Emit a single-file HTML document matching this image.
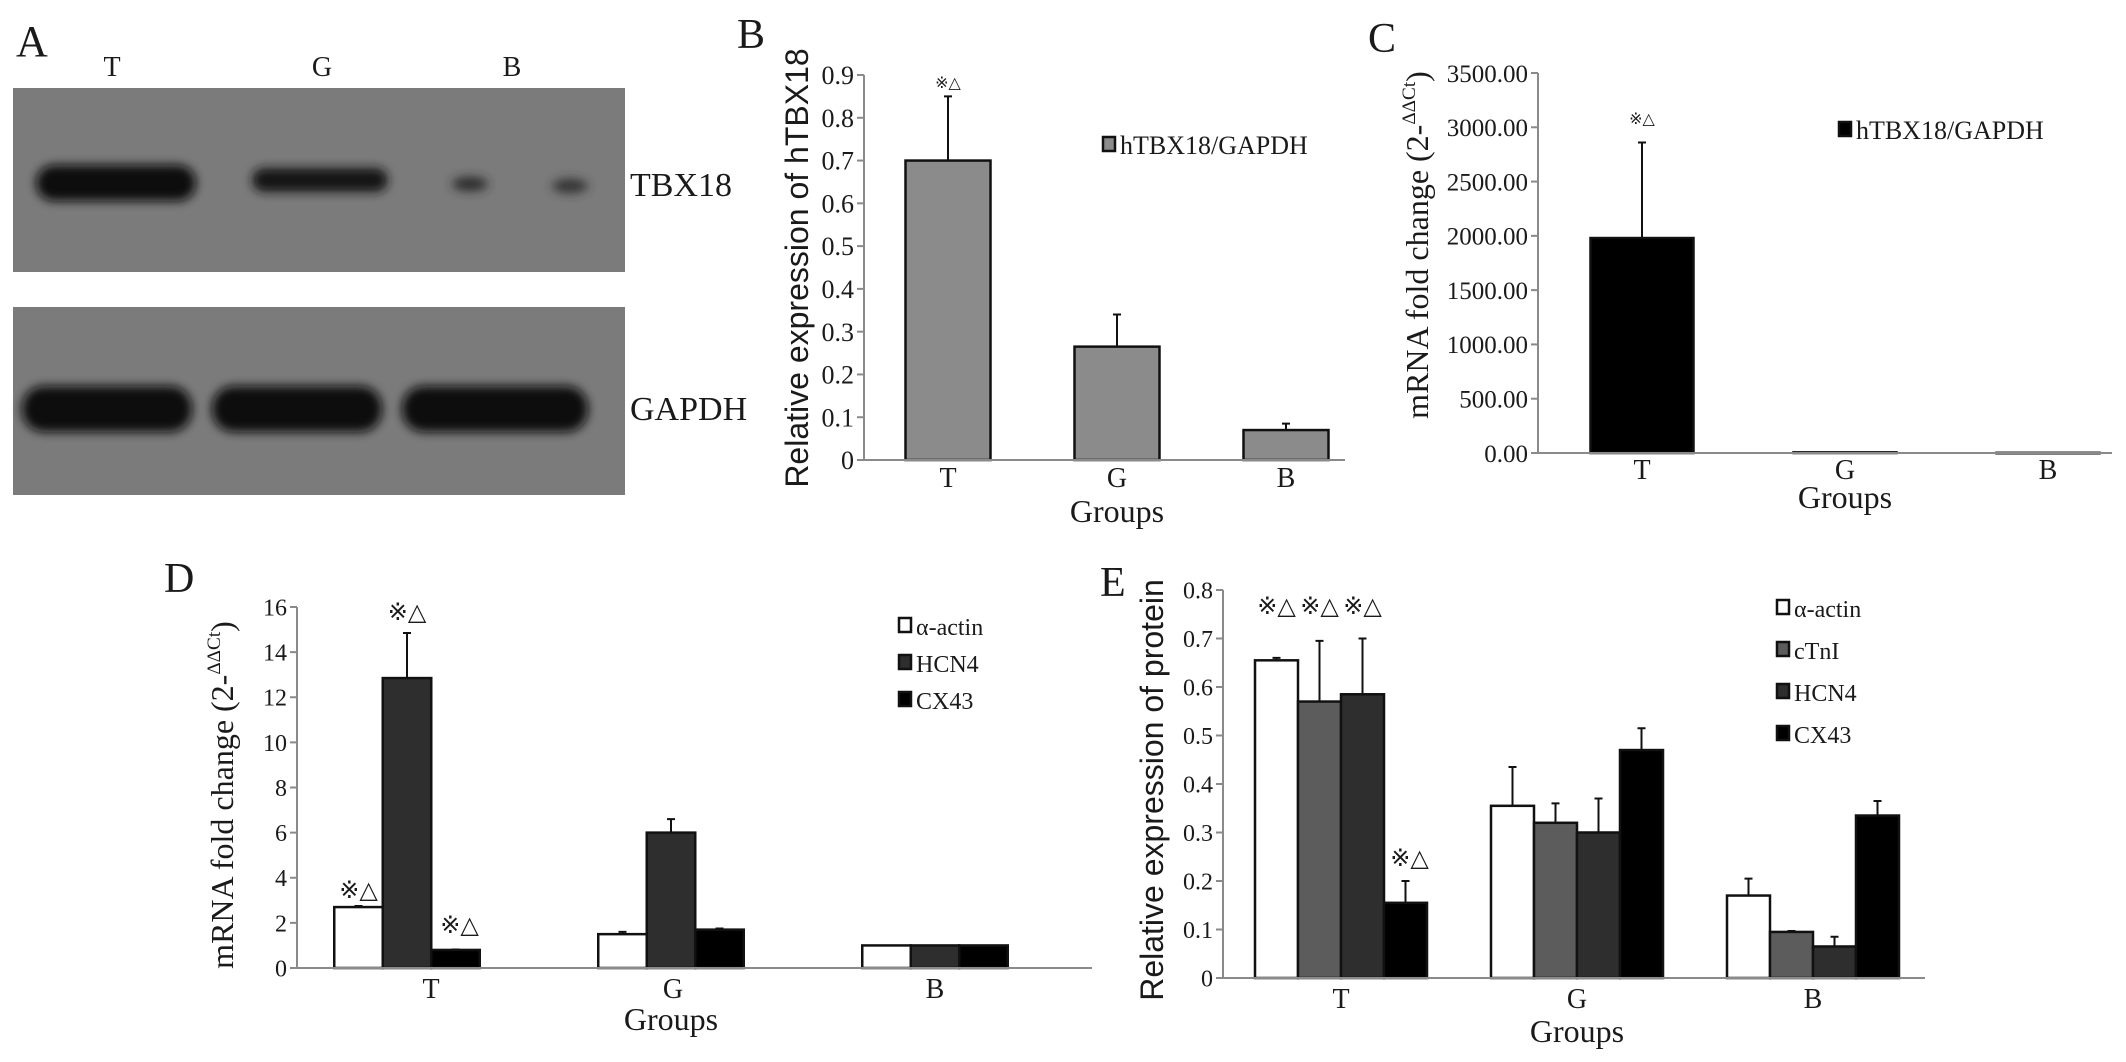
<!DOCTYPE html>
<html><head><meta charset="utf-8"><style>
html,body{margin:0;padding:0;background:#fff;}
svg{display:block;}
text{font-family:"Liberation Serif",serif;fill:#1a1a1a;}
.sans{font-family:"Liberation Sans",sans-serif;}
</style></head><body>
<svg id="fig" width="2126" height="1062" viewBox="0 0 2126 1062" xmlns="http://www.w3.org/2000/svg">
<defs>
<filter id="blur" x="-20%" y="-50%" width="140%" height="200%"><feGaussianBlur stdDeviation="5"/></filter>
</defs>
<g>
<text x="16" y="56" font-size="44">A</text>
<text x="112" y="76" font-size="28" text-anchor="middle">T</text>
<text x="322" y="76" font-size="28" text-anchor="middle">G</text>
<text x="512" y="76" font-size="28" text-anchor="middle">B</text>
<rect x="13" y="88" width="612" height="184" fill="#7b7b7b"/>
<g filter="url(#blur)">
<rect x="36" y="165" width="160" height="36" rx="18" fill="#080808"/>
<rect x="252" y="168" width="136" height="24" rx="12" fill="#141414"/>
<ellipse cx="470" cy="184" rx="18" ry="7" fill="#2a2a2a"/>
<ellipse cx="570" cy="186" rx="18" ry="7" fill="#333"/>
</g>
<text x="630" y="196" font-size="34">TBX18</text>
<rect x="13" y="307" width="612" height="188" fill="#7b7b7b"/>
<g filter="url(#blur)">
<rect x="22" y="386" width="170" height="46" rx="22" fill="#0a0a0a"/>
<rect x="212" y="386" width="170" height="46" rx="22" fill="#0a0a0a"/>
<rect x="402" y="386" width="186" height="46" rx="22" fill="#0a0a0a"/>
</g>
<text x="630" y="420" font-size="34">GAPDH</text>
</g>
<text x="737" y="48" font-size="42">B</text>
<text x="1368" y="52" font-size="42">C</text>
<text x="164" y="592" font-size="42">D</text>
<text x="1100" y="596" font-size="42">E</text>
</svg>
<script>
// ---------- Data ----------
const groups = ["T", "G", "B"];

const bSeries = ["hTBX18/GAPDH"];
const bValues = [[0.70, 0.265, 0.07]];
const bErrors = [[0.85, 0.34, 0.085]];
const bTicks = [0, 0.1, 0.2, 0.3, 0.4, 0.5, 0.6, 0.7, 0.8, 0.9];
const bTickLabels = ["0", "0.1", "0.2", "0.3", "0.4", "0.5", "0.6", "0.7", "0.8", "0.9"];

const cSeries = ["hTBX18/GAPDH"];
const cValues = [[1980, 6, 2]];
const cErrors = [[2860, 6, 2]];
const cTicks = [0, 500, 1000, 1500, 2000, 2500, 3000, 3500];
const cTickLabels = ["0.00", "500.00", "1000.00", "1500.00", "2000.00", "2500.00", "3000.00", "3500.00"];

const dSeries = ["α-actin", "HCN4", "CX43"];
const dValues = [[2.7, 1.5, 1.0], [12.85, 6.0, 1.0], [0.8, 1.7, 1.0]];
const dErrors = [[2.75, 1.6, 1.0], [14.85, 6.6, 1.0], [0.82, 1.75, 1.0]];
const dTicks = [0, 2, 4, 6, 8, 10, 12, 14, 16];
const dTickLabels = ["0", "2", "4", "6", "8", "10", "12", "14", "16"];

const eSeries = ["α-actin", "cTnI", "HCN4", "CX43"];
const eValues = [[0.655, 0.355, 0.17], [0.57, 0.32, 0.095], [0.585, 0.30, 0.065], [0.155, 0.47, 0.335]];
const eErrors = [[0.66, 0.435, 0.205], [0.695, 0.36, 0.097], [0.70, 0.37, 0.085], [0.20, 0.515, 0.365]];
const eTicks = [0, 0.1, 0.2, 0.3, 0.4, 0.5, 0.6, 0.7, 0.8];
const eTickLabels = ["0", "0.1", "0.2", "0.3", "0.4", "0.5", "0.6", "0.7", "0.8"];

// ---------- Drawing ----------
const NS = "http://www.w3.org/2000/svg";
const svg = document.getElementById("fig");
function mk(tag, attrs, parent, txt) {
  const e = document.createElementNS(NS, tag);
  for (const k in attrs) e.setAttribute(k, attrs[k]);
  if (txt !== undefined) e.textContent = txt;
  (parent || svg).appendChild(e);
  return e;
}

function chart(cfg) {
  const g = mk("g", {});
  
  
  const yScale = v => cfg.y0 - (v - cfg.min) / (cfg.max - cfg.min) * (cfg.y0 - cfg.yTop);
  const xCenter = i => cfg.c0 + i * cfg.step;
  const ya = mk("line", {x1: cfg.x0, y1: cfg.yTop, x2: cfg.x0, y2: cfg.y0, stroke: "#8a8a8a", "stroke-width": 2}, g);
  
  
  cfg.ticks.forEach((t, i) => {
    const y = yScale(t);
    const tk = mk("line", {x1: cfg.x0 - 7, y1: y, x2: cfg.x0, y2: y, stroke: "#8a8a8a", "stroke-width": 2}, g);
    
    
    const tl = mk("text", {x: cfg.x0 - 10, y: y + cfg.tickFs * 0.35, "font-size": cfg.tickFs, "text-anchor": "end", fill: "#333"}, g, cfg.tickLabels[i]);
    
    
  });
  const n = cfg.values.length;
  cfg.values.forEach((ser, j) => {
    ser.forEach((v, i) => {
      const left = xCenter(i) - n * cfg.bw / 2 + j * cfg.bw;
      const top = yScale(v);
      const r = mk("rect", {x: left, y: top, width: cfg.bw, height: Math.max(cfg.y0 - top, 0.5), fill: cfg.colors[j], stroke: "#111", "stroke-width": 2.5}, g);
      
      
      const e = cfg.errors[j][i];
      if (e > v + 1e-9) {
        const cx = left + cfg.bw / 2;
        const ey = yScale(e);
        const el = mk("path", {d: `M${cx},${top} L${cx},${ey} M${cx - 4},${ey} L${cx + 4},${ey}`, stroke: "#111", "stroke-width": 2, fill: "none"}, g);
        
        
      }
    });
  });
  const xa = mk("line", {x1: cfg.x0, y1: cfg.y0, x2: cfg.xEnd, y2: cfg.y0, stroke: "#8a8a8a", "stroke-width": 2}, g);
  
  
  groups.forEach((gname, i) => {
    const t = mk("text", {x: xCenter(i) + (cfg.labelOff ? cfg.labelOff[i] : 0), y: cfg.y0 + cfg.labelDy, "font-size": 28, "text-anchor": "middle"}, g, gname);
    
    
  });
  const xt = mk("text", {x: xCenter(1), y: cfg.xTitleY, "font-size": cfg.titleFs, "text-anchor": "middle"}, g, "Groups");
  
  
  const ytl = mk("text", {x: 0, y: 0, "font-size": cfg.yTitleFs, "text-anchor": "middle", transform: `translate(${cfg.yTitleX},${cfg.yTitleY}) rotate(-90)`, class: cfg.yTitleClass || ""}, g);
  
  
  if (cfg.yTitleSup) {
    ytl.textContent = cfg.yTitle;
    const sp = mk("tspan", {"font-size": cfg.yTitleFs * 0.6, dy: -cfg.yTitleFs * 0.4}, ytl, cfg.yTitleSup);
    
    
    const sp2 = mk("tspan", {dy: cfg.yTitleFs * 0.4}, ytl, ")");
    
    
  } else ytl.textContent = cfg.yTitle;
  cfg.series.forEach((s, j) => {
    const ly = cfg.legY + j * cfg.legStep;
    const m = mk("rect", {x: cfg.legX, y: ly - 8, width: 12, height: 14, fill: cfg.colors[j], stroke: "#111", "stroke-width": 2.5}, g);
    
    
    const lt = mk("text", {x: cfg.legX + 17, y: ly + 9, "font-size": cfg.legFs}, g, s);
    
    
  });
  (cfg.marks || []).forEach(mkd => {
    const j = mkd[0], i = mkd[1];
    const left = xCenter(i) - n * cfg.bw / 2 + j * cfg.bw;
    const a = mk("text", {x: left + cfg.bw / 2 + (mkd[3] || 0), y: mkd[2], "font-size": cfg.markFs, "text-anchor": "middle", fill: "#333", class: "sans"}, g, "※△");
    
    
  });
}

chart({name: "panel-b-chart", x0: 864, y0: 460, yTop: 75, min: 0, max: 0.9, xEnd: 1345,
  c0: 948, step: 169, bw: 85, values: bValues, errors: bErrors, series: bSeries, colors: ["#8b8b8b"],
  ticks: bTicks, tickLabels: bTickLabels, tickFs: 26, titleFs: 32, xTitleY: 522, labelDy: 27,
  yTitle: "Relative expression of hTBX18", yTitleX: 808, yTitleY: 268, yTitleFs: 32, yTitleClass: "sans",
  legX: 1103, legY: 145, legStep: 0, legFs: 26, markFs: 16, marks: [[0, 0, 88]]});

chart({name: "panel-c-chart", x0: 1538, y0: 453, yTop: 73, min: 0, max: 3500, xEnd: 2112,
  c0: 1642, step: 203, bw: 103, values: cValues, errors: cErrors, series: cSeries, colors: ["#000"],
  ticks: cTicks, tickLabels: cTickLabels, tickFs: 25, titleFs: 32, xTitleY: 508, labelDy: 26,
  yTitle: "mRNA fold change (2-", yTitleSup: "ΔΔCt", yTitleX: 1428, yTitleY: 245, yTitleFs: 32,
  legX: 1839, legY: 130, legStep: 0, legFs: 26, markFs: 16, marks: [[0, 0, 124]]});

chart({name: "panel-d-chart", x0: 297, y0: 968, yTop: 607, min: 0, max: 16, xEnd: 1092,
  c0: 407, step: 264, bw: 48.5, values: dValues, errors: dErrors, series: dSeries, colors: ["#fff", "#2e2e2e", "#000"],
  ticks: dTicks, tickLabels: dTickLabels, tickFs: 24, titleFs: 32, xTitleY: 1030, labelDy: 30, labelOff: [24, 2, 0],
  yTitle: "mRNA fold change (2-", yTitleSup: "ΔΔCt", yTitleX: 233, yTitleY: 795, yTitleFs: 32,
  legX: 899, legY: 626, legStep: 37, legFs: 24, markFs: 24,
  marks: [[1, 0, 620], [0, 0, 898], [2, 0, 933, 4]]});

chart({name: "panel-e-chart", x0: 1223, y0: 978, yTop: 590, min: 0, max: 0.8, xEnd: 1925,
  c0: 1341, step: 236, bw: 43, values: eValues, errors: eErrors, series: eSeries, colors: ["#fff", "#5c5c5c", "#2e2e2e", "#000"],
  ticks: eTicks, tickLabels: eTickLabels, tickFs: 24, titleFs: 32, xTitleY: 1042, labelDy: 30,
  yTitle: "Relative expression of protein", yTitleX: 1163, yTitleY: 790, yTitleFs: 32, yTitleClass: "sans",
  legX: 1777, legY: 608, legStep: 42, legFs: 24, markFs: 24,
  marks: [[0, 0, 614], [1, 0, 614], [2, 0, 614], [3, 0, 866, 4]]});
</script>
</body></html>
